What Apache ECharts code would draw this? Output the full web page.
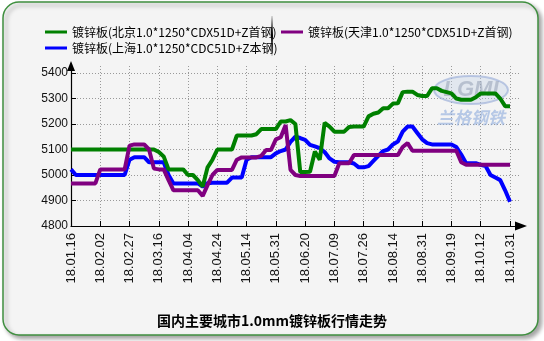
<!DOCTYPE html>
<html>
<head>
<meta charset="utf-8">
<script src="https://cdn.jsdelivr.net/npm/echarts@6/dist/echarts.min.js"></script>
<style>
html,body{margin:0;padding:0;background:#fff;}
#c{width:544px;height:341px;}
</style>
</head>
<body>
<div id="c"></div>
<script>
// ---- data ----
const seriesNames = [
  '镀锌板(北京1.0*1250*CDX51D+Z首钢)',
  '镀锌板(上海1.0*1250*CDC51D+Z本钢)',
  '镀锌板(天津1.0*1250*CDX51D+Z首钢)'
];
const xTickLabels = ['18.01.16','18.02.02','18.02.27','18.03.16','18.04.04','18.04.24','18.05.14','18.05.31',
  '18.06.20','18.07.09','18.07.26','18.08.14','18.08.31','18.09.19','18.10.12','18.10.31'];
const pointsPerLabel = 6;
const yTicks = [4800, 4900, 5000, 5100, 5200, 5300, 5400];

const beijing = [
  5100,5100,5100,5100,5100,5100,5100,5100,5100,5100,5100,5100,5100,5100,5100,5100,5100,5100,
  5090,5073,5022,5022,5022,5022,5000,5000,4980,4955,5030,5060,
  5100,5100,5100,5100,5155,5155,5155,5155,5160,5180,
  5180,5180,5180,5210,5210,5215,5200,5012,5012,5013,
  5092,5060,5205,5190,5170,5170,5170,5188,5190,5190,
  5190,5230,5240,5245,5262,5262,5280,5281,5325,5327,
  5327,5314,5310,5310,5340,5340,5330,5325,5320,5300,
  5295,5295,5295,5305,5320,5320,5320,5320,5300,5270,5270
];
const shanghai = [
  5022,5000,5000,5000,5000,5000,5000,5000,5000,5000,5000,5000,
  5060,5070,5070,5070,5050,5050,5050,5050,
  5000,4967,4967,4967,4967,4967,4967,4955,4968,4970,
  4970,4970,4970,4990,4990,4990,5060,5070,5070,5070,
  5070,5070,5085,5094,5100,5130,5150,5145,5138,5118,
  5112,5105,5090,5065,5052,5050,5050,5050,5045,5030,
  5030,5035,5055,5075,5094,5100,5120,5131,5170,5190,
  5190,5165,5140,5125,5120,5120,5120,5120,5120,5110,
  5080,5046,5046,5046,5040,5035,5000,4990,4980,4940,4895
];
const tianjin = [
  4967,4967,4967,4967,4967,4967,5022,5022,5022,5022,5022,5022,
  5115,5120,5120,5120,5100,5025,5022,5022,
  4980,4940,4940,4940,4940,4940,4940,4918,4960,5000,
  5020,5020,5020,5020,5060,5069,5069,5069,5069,5075,
  5098,5098,5140,5148,5196,5020,5000,4996,4996,4996,
  4996,4996,4996,4996,4996,5046,5046,5046,5078,5078,
  5078,5078,5078,5078,5078,5078,5078,5078,5110,5125,
  5095,5095,5095,5095,5095,5095,5095,5095,5095,5095,
  5050,5040,5040,5040,5040,5040,5040,5040,5040,5040,5040
];
const colors = ['#008000', '#0000ff', '#800080'];
const titleText = '国内主要城市1.0mm镀锌板行情走势';

// ---- chart ----
const xTickValues = xTickLabels.map((_, i) => i * pointsPerLabel);
const lastIndex = (xTickLabels.length - 1) * pointsPerLabel;
const toPairs = arr => arr.map((v, i) => [i, v]);

const chart = echarts.init(document.getElementById('c'), null, {renderer: 'canvas'});
const latin = 'Liberation Sans, Arial, sans-serif';
const cjk = '"Noto Sans CJK SC", sans-serif';

chart.setOption({
  backgroundColor: '#ffffff',
  animation: false,
  color: colors,
  title: {
    text: titleText,
    left: 'center',
    top: 309,
    textStyle: {fontFamily: cjk, fontSize: 14, fontWeight: 'bold', color: '#000'}
  },
  legend: [
    {
      data: [seriesNames[0], seriesNames[1]],
      orient: 'vertical', left: 40, top: 20,
      icon: 'rect', itemWidth: 22, itemHeight: 3, itemGap: 2,
      textStyle: {fontFamily: cjk, fontSize: 12, color: '#000', lineHeight: 14}
    },
    {
      data: [seriesNames[2]],
      orient: 'vertical', left: 276, top: 20,
      icon: 'rect', itemWidth: 22, itemHeight: 3, itemGap: 2,
      textStyle: {fontFamily: cjk, fontSize: 12, color: '#000', lineHeight: 14}
    }
  ],
  grid: {left: 71, top: 66, width: 450, height: 160, containLabel: false},
  xAxis: {
    type: 'value',
    min: 0,
    max: lastIndex * 450 / 439,
    axisLine: {show: true, lineStyle: {color: '#000', width: 1.2}, symbol: ['none', 'triangle'], symbolSize: [9, 12]},
    axisTick: {show: true, inside: true, length: 5, customValues: xTickValues, lineStyle: {color: '#000'}},
    axisLabel: {
      customValues: xTickValues,
      rotate: 90, margin: 7,
      fontFamily: latin, fontSize: 13, color: '#111',
      formatter: v => xTickLabels[Math.round(v / pointsPerLabel)] || ''
    },
    splitLine: {show: true, lineStyle: {color: '#999', type: [1, 2], width: 1}}
  },
  yAxis: {
    type: 'value',
    min: yTicks[0],
    max: yTicks[0] + 627.5,
    axisLine: {show: true, lineStyle: {color: '#000', width: 1.2}, symbol: ['none', 'triangle'], symbolSize: [8, 10]},
    axisTick: {show: true, inside: true, length: 5, customValues: yTicks, lineStyle: {color: '#000'}},
    axisLabel: {customValues: yTicks, margin: 3, fontFamily: latin, fontSize: 12, color: '#111',
      formatter: v => String(Math.round(v))},
    splitLine: {show: true, lineStyle: {color: '#999', type: [1, 2], width: 1}}
  },
  series: [
    {name: seriesNames[0], type: 'line', data: toPairs(beijing), showSymbol: false, lineStyle: {width: 4}, z: 4},
    {name: seriesNames[1], type: 'line', data: toPairs(shanghai), showSymbol: false, lineStyle: {width: 4}, z: 3},
    {name: seriesNames[2], type: 'line', data: toPairs(tianjin), showSymbol: false, lineStyle: {width: 4}, z: 5}
  ],
  graphic: [
    {
      type: 'rect', z: -10, silent: true,
      shape: {x: 3, y: 2, width: 535, height: 333, r: 16},
      style: {fill: '#f4f4f4', stroke: '#3f8f3f', lineWidth: 1.5,
        shadowBlur: 4, shadowOffsetX: 3, shadowOffsetY: 3, shadowColor: 'rgba(0,0,0,0.35)'}
    },
    {
      type: 'line', z: 5, silent: true,
      shape: {x1: 272, y1: 16, x2: 272, y2: 56},
      style: {lineWidth: 2, stroke: {type: 'linear', x: 0, y: 0, x2: 0, y2: 1,
        colorStops: [{offset: 0, color: 'rgba(0,0,0,0)'}, {offset: 0.5, color: '#000'}, {offset: 1, color: 'rgba(0,0,0,0)'}]}}
    },
    {
      type: 'ellipse', z: 1, silent: true,
      shape: {cx: 471, cy: 90, rx: 37, ry: 14},
      style: {fill: 'rgba(190,205,230,0.35)', stroke: 'rgba(150,170,215,0.6)', lineWidth: 2}
    },
    {
      type: 'text', z: 1, silent: true,
      style: {text: 'LGMI', x: 471, y: 90, align: 'center', verticalAlign: 'middle',
        font: 'italic bold 22px Liberation Sans', fill: 'rgba(150,160,180,0.55)'}
    },
    {
      type: 'text', z: 1, silent: true,
      style: {text: '兰格钢铁', x: 471, y: 118, align: 'center', verticalAlign: 'middle',
        font: 'italic bold 17px "Noto Sans CJK SC"', fill: 'rgba(140,170,220,0.6)'}
    }
  ]
});
</script>
</body>
</html>
